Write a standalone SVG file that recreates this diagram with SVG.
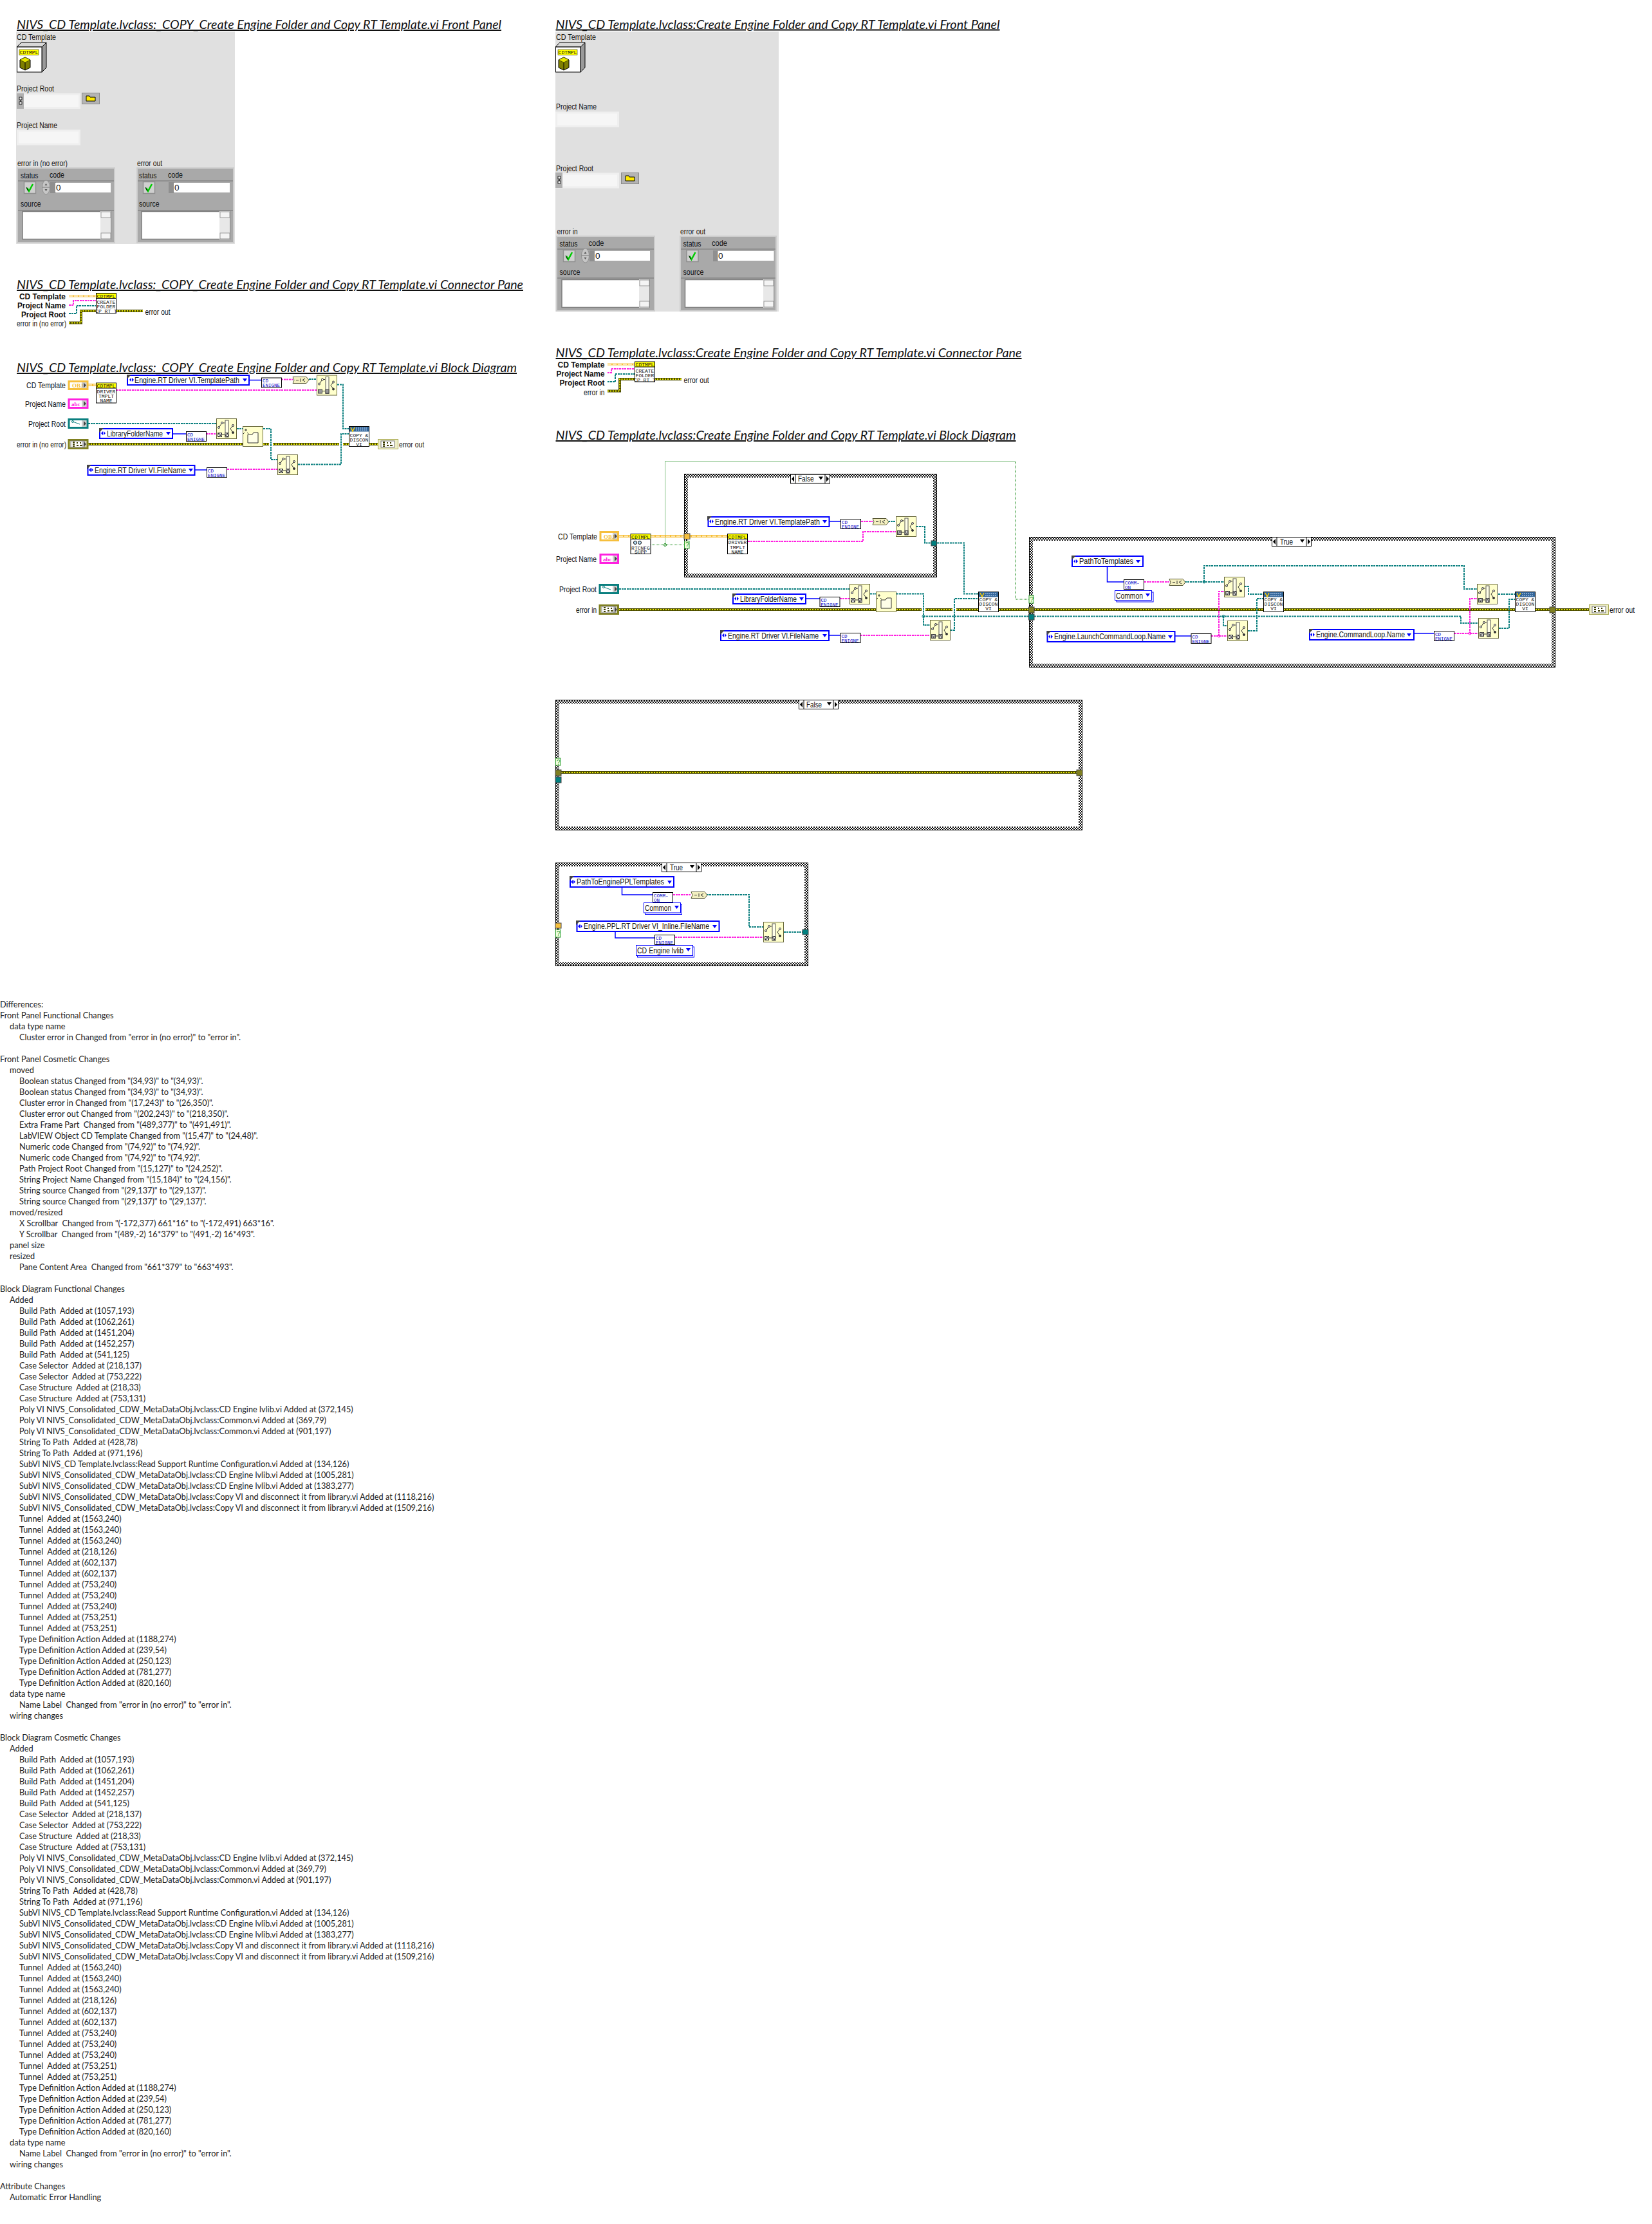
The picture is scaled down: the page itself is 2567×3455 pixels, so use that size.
<svg xmlns="http://www.w3.org/2000/svg" width="2567" height="3455" viewBox="0 0 2567 3455">
<style>
text{font-family:"Liberation Sans",Arial,sans-serif;fill:#111}
.ti{font-family:Lato,"Open Sans",sans-serif;font-style:italic;font-size:20px;text-decoration:underline;fill:#111}
.l{font-size:13.5px}
.lb{font-size:13.5px;font-weight:bold}
.en{font-size:13.5px}
.ic{font-family:"Liberation Mono",monospace;font-size:8px;text-anchor:middle;fill:#111}
.cd{font-family:"Liberation Mono",monospace;font-size:7.5px;fill:#0000c8}
.d{font-family:Lato,"Open Sans",sans-serif;font-size:14px;fill:#222}
.d tspan{white-space:pre}
.wt{fill:none;stroke:#0a7f7f;stroke-width:2;stroke-dasharray:3 1}
.wp{fill:none;stroke:#ff20e0;stroke-width:2;stroke-dasharray:3 1}
.wb{fill:none;stroke:#0000ff;stroke-width:1.5}
.wg{fill:none;stroke:#007f00;stroke-width:1;stroke-dasharray:1 1}
.ea{fill:none;stroke:#4c4c00;stroke-width:4}
.eb{fill:none;stroke:#e8e800;stroke-width:2;stroke-dasharray:2 2}
.oa{fill:none;stroke:#f6bf3c;stroke-width:4}
.ob{fill:none;stroke:#fff4d0;stroke-width:1.5;stroke-dasharray:6 2}
.ev{fill:#fff;stroke:#0000ff;stroke-width:2}
.ctl{fill:#f6f6f6;stroke:#efefef;stroke-width:3}
.clu{fill:#a9a9a9;stroke:#cdcdcd;stroke-width:2}
.sep{fill:#8f8f8f}
.tb{fill:#fff;stroke:#7d7d7d;stroke-width:1.5}
.fr{fill:url(#chk2);stroke:#000;stroke-width:1}
.in{fill:#fff}
.tn{stroke:#444;stroke-width:1}
.to{fill:#fff;stroke:#f6bf3c;stroke-width:3}
.tp{fill:#fff;stroke:#ff20e0;stroke-width:3}
.tt{fill:#fff;stroke:#0a7f7f;stroke-width:3}
.te{fill:#ffffd8;stroke:#808020;stroke-width:3}
.sh{fill:#777;opacity:.35}
</style>
<defs>
<pattern id="chk" width="2" height="2" patternUnits="userSpaceOnUse"><rect width="2" height="2" fill="#fff"/><rect width="1" height="1" fill="#333"/><rect x="1" y="1" width="1" height="1" fill="#333"/></pattern>
<pattern id="chk2" width="4" height="4" patternUnits="userSpaceOnUse"><rect width="4" height="4" fill="#fff"/><rect width="2" height="2" fill="#111"/><rect x="2" y="2" width="2" height="2" fill="#111"/></pattern>
<g id="bp"><rect x=".5" y=".5" width="31" height="31" fill="#ffffcc" stroke="#66663a"/><rect x="14" y="3" width="5" height="26" fill="#ffffe8" stroke="#555"/><rect x="2.5" y="22.500" width="6" height="6" fill="url(#chk)" stroke="#444"/><rect x="14" y="22.500" width="5" height="6" fill="url(#chk)" stroke="#444"/><path d="M9 25H13M4 14L9 7M9 7H13M22 16L26 11M22 16L26 22" fill="none" stroke="#333"/><circle cx="4" cy="14" r="1.500" fill="#fff" stroke="#333"/><circle cx="9" cy="7" r="1.500" fill="#fff" stroke="#333"/><circle cx="26" cy="11" r="1.500" fill="#fff" stroke="#333"/><circle cx="26" cy="22" r="1.500" fill="#333" stroke="#333"/></g>
<g id="fo"><rect x=".5" y=".5" width="31" height="31" fill="#ffffcc" stroke="#66663a"/><path d="M8 13H15L17 10H24V26H8Z" fill="#ffffe8" stroke="#333"/><path d="M3 6H7M5 4V8M7 10L9 12M3 10L1 12" stroke="#333" fill="none"/></g>
<g id="sp"><polygon points="0,.5 21,.5 25,5.500 21,10.500 0,10.500 2,5.500" fill="#f4f0c0" stroke="#555533"/><path d="M5 5.500H9M12 3V8M15 5.500L19 3M15 5.500L19 8" stroke="#333" fill="none"/></g>
<g id="ci"><rect x=".5" y=".5" width="31" height="31" fill="#fff" stroke="#000"/><rect x="1" y="1" width="30" height="7.500" fill="#ffff00"/><path d="M1 8.500H31" stroke="#000"/></g>
<g id="cv"><rect x=".5" y=".5" width="31" height="31" fill="#fff" stroke="#000"/><rect x="1" y="1" width="30" height="7.500" fill="#336699"/><path d="M3 2L6 8L9 2" fill="none" stroke="#ffd000" stroke-width="1.500"/><path d="M11 3H29M11 6H29" stroke="#cfe0ff" stroke-dasharray="2 1"/></g>
<g id="cb"><rect x=".5" y=".5" width="31" height="15" fill="#fff" stroke="#000"/></g>
<g id="sel"><rect x=".5" y=".5" width="61" height="14" fill="#fff" stroke="#000"/><path d="M8 .5V14.500M54 .5V14.500" stroke="#000"/><polygon points="6,3 6,12 2,7.500" fill="#000"/><polygon points="56,3 56,12 60,7.500" fill="#000"/><polygon points="44,4 51,4 47.500,9" fill="#000"/></g>
<g id="cor"><polygon points="0,0 7,0 0,7" fill="#444"/></g>
<g id="lr"><polygon points="3,0 3,6 0,3" fill="#0000ff"/><polygon points="4,0 4,6 7,3" fill="#0000ff"/></g>
<g id="dd"><polygon points="0,0 7,0 3.500,5" fill="#0000ff"/></g>
<g id="obj3"><polygon points="0,7 7,0 46,0 39,7" fill="#d8d8d8" stroke="#000"/><polygon points="39,7 46,0 46,39 39,46" fill="#9a9a9a" stroke="#000"/><rect x=".5" y="7" width="38.500" height="39" fill="#fff" stroke="#000" stroke-width="1"/><rect x="4" y="11" width="30" height="8.500" fill="#ffff00" stroke="#000" stroke-width=".5"/><polygon points="5,27 13,23 21,27 21,39 13,43 5,39" fill="#7f7f00" stroke="#000"/><polygon points="5,27 13,23 21,27 13,31" fill="#e6e600" stroke="#000" stroke-width=".5"/><path d="M13 31V43" stroke="#000"/></g>
<g id="sb"><rect width="16" height="44" fill="#e8e8e8"/><rect x="1" y="1" width="15" height="9" fill="#f4f4f4" stroke="#888" stroke-width=".8"/><rect x="1" y="34" width="15" height="9" fill="#f4f4f4" stroke="#888" stroke-width=".8"/></g>
<g id="bool"><rect x=".5" y=".5" width="18" height="18" fill="#cfcfcf" stroke="#8f8f8f" stroke-width="1.500"/><path d="M5 10L8 15L14 4" fill="none" stroke="#00cc00" stroke-width="2.500"/><path d="M4 9L7 15" stroke="#000" fill="none"/></g>
<g id="spin"><ellipse cx="6.500" cy="11" rx="6" ry="11" fill="#c6c6c6" stroke="#8f8f8f"/><path d="M1 11H12" stroke="#777"/><polygon points="6.500,5 4.500,8 8.500,8" fill="#555"/><polygon points="6.500,17 4.500,14 8.500,14" fill="#555"/></g>
<g id="br"><rect x=".5" y=".5" width="27" height="17" fill="#b4b4b4" stroke="#888"/><path d="M7 5H12L13 7H21V13H7Z" fill="#ffe900" stroke="#000"/></g>
<g id="pth"><rect width="11" height="24" fill="#b0b0b0"/><path d="M6 7V15" stroke="#000"/><rect x="4" y="6" width="4" height="4" fill="#eee" stroke="#000" stroke-width=".8"/><rect x="4" y="13" width="4" height="4" fill="#eee" stroke="#000" stroke-width=".8"/></g>
<g id="tri"><polygon points="0,0 4,4 0,8" fill="#444"/></g>
<g id="eicon"><rect x="5" y="3" width="21" height="10" fill="#fff" stroke="#777" stroke-width="1"/><path d="M8 5H11M8 8H11M8 11H11M14 6H16M19 6H21M19 10H23M14 10H17" stroke="#3d3d00" stroke-width="2"/></g>
</defs>
<rect width="2567" height="3455" fill="#fff"/>

<g id="titles">
<text class="ti" x="26" y="45" textLength="753" lengthAdjust="spacingAndGlyphs">NIVS_CD Template.lvclass:_COPY_Create Engine Folder and Copy RT Template.vi Front Panel</text>
<text class="ti" x="26" y="449" textLength="787" lengthAdjust="spacingAndGlyphs">NIVS_CD Template.lvclass:_COPY_Create Engine Folder and Copy RT Template.vi Connector Pane</text>
<text class="ti" x="26" y="578" textLength="777" lengthAdjust="spacingAndGlyphs">NIVS_CD Template.lvclass:_COPY_Create Engine Folder and Copy RT Template.vi Block Diagram</text>
<text class="ti" x="863.500" y="44.500" textLength="690" lengthAdjust="spacingAndGlyphs">NIVS_CD Template.lvclass:Create Engine Folder and Copy RT Template.vi Front Panel</text>
<text class="ti" x="863.500" y="555" textLength="724" lengthAdjust="spacingAndGlyphs">NIVS_CD Template.lvclass:Create Engine Folder and Copy RT Template.vi Connector Pane</text>
<text class="ti" x="863.500" y="683" textLength="715" lengthAdjust="spacingAndGlyphs">NIVS_CD Template.lvclass:Create Engine Folder and Copy RT Template.vi Block Diagram</text>
</g>

<g id="front-panel-left">
<rect x="25" y="49" width="340" height="330" fill="#e0e0e0"/>
<text class="l" x="26" y="62" textLength="61" lengthAdjust="spacingAndGlyphs">CD Template</text>
<use href="#obj3" x="26" y="66"/>
<text class="ic" x="45" y="83.500">CDTMPL</text>
<text class="l" x="26" y="142" textLength="58" lengthAdjust="spacingAndGlyphs">Project Root</text>
<rect class="ctl" x="27.500" y="146.500" width="96" height="21"/><use href="#pth" x="26" y="145"/>
<use href="#br" x="127" y="144"/>
<text class="l" x="26" y="199" textLength="63" lengthAdjust="spacingAndGlyphs">Project Name</text>
<rect class="ctl" x="27.500" y="203" width="96" height="21"/>
<text class="l" x="27" y="258" textLength="78" lengthAdjust="spacingAndGlyphs">error in (no error)</text>
<text class="l" x="213" y="258" textLength="39" lengthAdjust="spacingAndGlyphs">error out</text>
<rect class="clu" x="27" y="261" width="151" height="116"/>
<rect class="sep" x="28" y="280" width="149" height="2"/><rect class="sep" x="28" y="326" width="149" height="2"/>
<text class="l" x="32" y="277" textLength="27.500" lengthAdjust="spacingAndGlyphs">status</text><text class="l" x="77" y="276" textLength="23" lengthAdjust="spacingAndGlyphs">code</text><text class="l" x="32" y="321" textLength="31.500" lengthAdjust="spacingAndGlyphs">source</text>
<use href="#bool" x="37" y="282"/><use href="#spin" x="65" y="280"/>
<rect x="78" y="283" width="9" height="17" fill="#8f8f8f"/><rect x="86" y="284" width="86" height="15" fill="#fff"/><text class="l" x="87" y="296">0</text>
<rect class="tb" x="35" y="328.500" width="137" height="43"/><use href="#sb" x="156" y="328"/>
<rect class="clu" x="213" y="261" width="150" height="116"/>
<rect class="sep" x="214" y="280" width="148" height="2"/><rect class="sep" x="214" y="326" width="148" height="2"/>
<text class="l" x="216" y="277" textLength="27.500" lengthAdjust="spacingAndGlyphs">status</text><text class="l" x="261" y="276" textLength="23" lengthAdjust="spacingAndGlyphs">code</text><text class="l" x="216" y="321" textLength="31.500" lengthAdjust="spacingAndGlyphs">source</text>
<use href="#bool" x="222" y="282"/>
<rect x="262" y="283" width="9" height="17" fill="#8f8f8f"/><rect x="270" y="284" width="87" height="15" fill="#fff"/><text class="l" x="271" y="296">0</text>
<rect class="tb" x="220" y="328.500" width="137" height="43"/><use href="#sb" x="341" y="328"/>
</g>

<g id="front-panel-right">
<rect x="863" y="49" width="347" height="435" fill="#e0e0e0"/>
<text class="l" x="864" y="62" textLength="62" lengthAdjust="spacingAndGlyphs">CD Template</text>
<use href="#obj3" x="863" y="66"/>
<text class="ic" x="882" y="83.500">CDTMPL</text>
<text class="l" x="864" y="170" textLength="63" lengthAdjust="spacingAndGlyphs">Project Name</text>
<rect class="ctl" x="864.500" y="175" width="96" height="21"/>
<text class="l" x="864" y="266" textLength="58" lengthAdjust="spacingAndGlyphs">Project Root</text>
<rect class="ctl" x="864.500" y="270" width="96" height="21"/><use href="#pth" x="863" y="268"/>
<use href="#br" x="965" y="268"/>
<text class="l" x="865.500" y="364" textLength="32" lengthAdjust="spacingAndGlyphs">error in</text>
<text class="l" x="1057" y="364" textLength="39" lengthAdjust="spacingAndGlyphs">error out</text>
<rect class="clu" x="865" y="367" width="152" height="116"/>
<rect class="sep" x="866" y="386" width="150" height="2"/><rect class="sep" x="866" y="431" width="150" height="2"/>
<text class="l" x="869.500" y="383" textLength="28" lengthAdjust="spacingAndGlyphs">status</text><text class="l" x="914.500" y="382" textLength="24" lengthAdjust="spacingAndGlyphs">code</text><text class="l" x="869.500" y="427" textLength="32" lengthAdjust="spacingAndGlyphs">source</text>
<use href="#bool" x="875" y="388"/><use href="#spin" x="903" y="386"/>
<rect x="916" y="389" width="9" height="17" fill="#8f8f8f"/><rect x="924" y="390" width="86" height="15" fill="#fff"/><text class="l" x="925" y="402">0</text>
<rect class="tb" x="873" y="434.500" width="136" height="43"/><use href="#sb" x="993" y="434"/>
<rect class="clu" x="1057" y="367" width="149" height="116"/>
<rect class="sep" x="1058" y="386" width="147" height="2"/><rect class="sep" x="1058" y="431" width="147" height="2"/>
<text class="l" x="1061.500" y="383" textLength="28" lengthAdjust="spacingAndGlyphs">status</text><text class="l" x="1106" y="382" textLength="24" lengthAdjust="spacingAndGlyphs">code</text><text class="l" x="1061.500" y="427" textLength="32" lengthAdjust="spacingAndGlyphs">source</text>
<use href="#bool" x="1066.500" y="388"/>
<rect x="1108" y="389" width="8" height="17" fill="#8f8f8f"/><rect x="1115.500" y="390" width="87" height="15" fill="#fff"/><text class="l" x="1116" y="402">0</text>
<rect class="tb" x="1064.500" y="434.500" width="137" height="43"/><use href="#sb" x="1186" y="434"/>
</g>

<g id="frames">
<g id="case-false-1"><rect class="fr" x="1063.500" y="736.500" width="392" height="160"/><rect class="in" x="1069" y="742" width="381" height="149"/></g>
<g id="case-true-main"><rect class="fr" x="1599.500" y="834.500" width="817" height="202"/><rect class="in" x="1605" y="840" width="806" height="191"/></g>
<g id="case-false-2"><rect class="fr" x="863.500" y="1087.500" width="818" height="202"/><rect class="in" x="869" y="1093" width="807" height="191"/></g>
<g id="case-true-2"><rect class="fr" x="863.500" y="1340.500" width="392" height="160"/><rect class="in" x="869" y="1346" width="381" height="149"/></g>
</g>

<g id="connectors">
<!-- left connector pane -->
<path class="oa" style="stroke-width:3" d="M107 460H149"/><path class="ob" d="M107 460H149"/>
<path class="wp" d="M107 474H114V467H149"/>
<path class="wt" d="M107 487H119V475H149"/>
<path class="ea" d="M107 501.500H126V483H149M181 483H222"/><path class="eb" d="M107 501.500H126V483H149M181 483H222"/>
<!-- right connector pane -->
<path class="oa" style="stroke-width:3" d="M944 566H987"/><path class="ob" d="M944 566H987"/>
<path class="wp" d="M944 579H950V573H987"/>
<path class="wt" d="M944 593H956V581H987"/>
<path class="ea" d="M944 607.500H963V589H987M1017 589H1059"/><path class="eb" d="M944 607.500H963V589H987M1017 589H1059"/>
<!-- left block diagram -->
<path class="oa" d="M137 598H149"/><path class="ob" d="M137 598H149"/>
<path class="wp" d="M181 606H492"/>
<path class="wb" d="M387 590.500H407"/>
<path class="wp" d="M437 589.500H455"/>
<path class="wt" d="M480 589H492"/>
<path class="wt" d="M524 597.500H533V666H542"/>
<path class="wt" d="M137 658H336"/>
<path class="wb" d="M268 674H289"/>
<path class="wp" d="M320 674H336"/>
<path class="wt" d="M368 666H377"/>
<path class="wt" d="M409 666H421V714H431"/>
<path class="ea" d="M137 690H377M409 690H418M424 690H527M533 690H542M574 690H587"/><path class="eb" d="M137 690H377M409 690H418M424 690H527M533 690H542M574 690H587"/>
<path class="wt" d="M463 721.500H530V674H542"/>
<path class="wb" d="M303 730H321"/>
<path class="wp" d="M353 729H431"/>
<!-- right block diagram -->
<path class="wg" d="M1011 846.500H1063M1033.500 846.500V716.500H1578V931H1598"/>
<path class="oa" d="M962 833H980M1011 833H1130"/><path class="ob" d="M962 833H980M1011 833H1130"/>
<path class="wb" d="M1289 810H1306"/>
<path class="wp" d="M1338 810H1356"/>
<path class="wt" d="M1380 810H1392"/>
<path class="wp" d="M1162 841H1341V826H1392"/>
<path class="wt" d="M1424 818H1437V843.500H1447"/>
<path class="wt" d="M1456 843.500H1498V922.500H1520"/>
<path class="wt" d="M962 915H1320"/>
<path class="wb" d="M1252 930H1274"/>
<path class="wp" d="M1305 930H1320"/>
<path class="wt" d="M1352 922.500H1361"/>
<path class="ea" d="M962 947H1361M1393 947H1432M1438 947H1480M1486 947H1520M1552 947H1963M1995 947H2354M2386 947H2469"/><path class="eb" d="M962 947H1361M1393 947H1432M1438 947H1480M1486 947H1520M1552 947H1963M1995 947H2354M2386 947H2469"/>
<path class="wt" d="M1393 922.500H1435V971H1445M1435 957.500H2270V968H2297M1901 957.500V972H1907"/>
<path class="wt" d="M1477 979H1483V930H1520"/>
<path class="wb" d="M1288 987H1306"/>
<path class="wp" d="M1337 987H1445"/>
<path class="wb" d="M1720.500 880V904H1746"/>
<path class="wp" d="M1778 904H1817"/>
<path class="wt" d="M1841 904H1902M1871 904V879H2275V915H2295"/>
<path class="wt" d="M1934 911H1940V923H1963"/>
<path class="wt" d="M1939 980H1953V930H1963"/>
<path class="wb" d="M1826 988H1851"/>
<path class="wp" d="M1882 988H1907M1894 988V919H1902"/>
<path class="wb" d="M2197 984H2228"/>
<path class="wp" d="M2260 984H2297M2284 984V930H2295"/>
<path class="wt" d="M2328 923H2354"/>
<path class="wt" d="M2329 976H2345V931H2354"/>
<!-- lower cases -->
<path class="ea" d="M872 1200H1673"/><path class="eb" d="M872 1200H1673"/>
<path class="wb" d="M966.500 1378V1390H1014"/>
<path class="wp" d="M1046 1390H1074"/>
<path class="wt" d="M1098 1390H1164V1440H1186"/>
<path class="wt" d="M1218 1448H1247"/>
<path class="wb" d="M956 1447V1457H1017"/>
<path class="wp" d="M1049 1456H1186"/>
</g>

<g id="left-pane-labels">
<text class="lb" x="30" y="465" textLength="72" lengthAdjust="spacingAndGlyphs">CD Template</text>
<text class="lb" x="27" y="479" textLength="75" lengthAdjust="spacingAndGlyphs">Project Name</text>
<text class="lb" x="33" y="493" textLength="69" lengthAdjust="spacingAndGlyphs">Project Root</text>
<text class="l" x="26" y="507" textLength="77" lengthAdjust="spacingAndGlyphs">error in (no error)</text>
<text class="l" x="225.500" y="489" textLength="39" lengthAdjust="spacingAndGlyphs">error out</text>
<g id="pane-icon-left"><use href="#ci" x="149" y="455"/><text class="ic" x="165" y="462.500">CDTMPL</text><text class="ic" x="165" y="472">CREATE</text><text class="ic" x="165" y="479">FOLDER</text><text class="ic" x="165" y="486">CP RT T</text></g>
</g>

<g id="right-pane-labels">
<text class="lb" x="866.500" y="571" textLength="73" lengthAdjust="spacingAndGlyphs">CD Template</text>
<text class="lb" x="864.500" y="585" textLength="75" lengthAdjust="spacingAndGlyphs">Project Name</text>
<text class="lb" x="869.500" y="599" textLength="70" lengthAdjust="spacingAndGlyphs">Project Root</text>
<text class="l" x="907" y="613.500" textLength="32.500" lengthAdjust="spacingAndGlyphs">error in</text>
<text class="l" x="1062.500" y="595" textLength="39" lengthAdjust="spacingAndGlyphs">error out</text>
<g id="pane-icon-right"><use href="#ci" x="986" y="561.500"/><text class="ic" x="1002" y="569">CDTMPL</text><text class="ic" x="1002" y="578.500">CREATE</text><text class="ic" x="1002" y="585.500">FOLDER</text><text class="ic" x="1002" y="592.500">CP RT T</text></g>
</g>

<g id="block-left">
<g id="L-cdt"><text class="l" x="41" y="603" textLength="61" lengthAdjust="spacingAndGlyphs">CD Template</text><rect class="to" x="107" y="592.500" width="29" height="12"/><text x="112" y="602" style="font-size:9px;font-weight:bold;font-family:'Liberation Serif',serif;fill:#f6bf3c">OBJ</text><rect class="sh" x="127" y="594" width="7.500" height="9"/><use href="#tri" x="130" y="594.500"/></g>
<g id="L-pn"><text class="l" x="39" y="632" textLength="63" lengthAdjust="spacingAndGlyphs">Project Name</text><rect class="tp" x="107" y="620.500" width="29" height="13"/><text x="111" y="631" style="font-size:9px;font-weight:bold;font-family:'Liberation Serif',serif;fill:#ff20e0">abc</text><rect class="sh" x="127" y="622" width="7.500" height="10"/><use href="#tri" x="130" y="623"/></g>
<g id="L-pr"><text class="l" x="44" y="663" textLength="58" lengthAdjust="spacingAndGlyphs">Project Root</text><rect class="tt" x="107" y="651.500" width="29" height="13"/><path d="M113 655L124 659" stroke="#0a7f7f"/><circle cx="113" cy="655" r="1.500" fill="#fff" stroke="#0a7f7f"/><rect class="sh" x="127" y="653" width="7.500" height="10"/><use href="#tri" x="130" y="654"/></g>
<g id="L-ei"><text class="l" x="26" y="695" textLength="77" lengthAdjust="spacingAndGlyphs">error in (no error)</text><rect class="te" x="107" y="683.500" width="29" height="13"/><use href="#eicon" x="105" y="682"/><rect class="sh" x="127" y="685" width="7.500" height="10"/><use href="#tri" x="130" y="686"/></g>
<g id="L-drv"><use href="#ci" x="149" y="594.500"/><text class="ic" x="165" y="602">CDTMPL</text><text class="ic" x="165" y="611">DRIVER</text><text class="ic" x="165" y="618">TMPLT</text><text class="ic" x="165" y="625">NAME</text></g>
<g id="L-en1"><rect class="ev" x="198" y="583" width="189" height="15"/><use href="#cor" x="197" y="582"/><use href="#lr" x="201" y="587"/><use href="#dd" x="377" y="588"/><text class="en" x="209" y="595" textLength="163" lengthAdjust="spacingAndGlyphs">Engine.RT Driver VI.TemplatePath</text></g>
<g id="L-cd1"><use href="#cb" x="406" y="586.500"/><text class="cd" x="408" y="594">CD</text><text class="cd" x="408" y="601">ENIGNE</text></g>
<use id="L-s2p" href="#sp" x="455" y="585"/>
<use id="L-bp1" href="#bp" x="492" y="582.500"/>
<g id="L-en2"><rect class="ev" x="155" y="666" width="113" height="15"/><use href="#cor" x="154" y="665"/><use href="#lr" x="157" y="670"/><use href="#dd" x="258" y="671"/><text class="en" x="166" y="678" textLength="87" lengthAdjust="spacingAndGlyphs">LibraryFolderName</text></g>
<g id="L-cd2"><use href="#cb" x="289" y="670"/><text class="cd" x="291" y="677.500">CD</text><text class="cd" x="291" y="684.500">ENIGNE</text></g>
<use id="L-bp2" href="#bp" x="336" y="650"/>
<use id="L-fo" href="#fo" x="377" y="662"/>
<use id="L-bp3" href="#bp" x="431" y="706"/>
<g id="L-cp"><use href="#cv" x="542" y="662"/><text class="ic" x="558" y="679">COPY &amp;</text><text class="ic" x="558" y="686">DISCON</text><text class="ic" x="558" y="693">VI</text></g>
<g id="L-en3"><rect class="ev" x="136.500" y="723" width="166" height="15"/><use href="#cor" x="135" y="722"/><use href="#lr" x="138" y="727"/><use href="#dd" x="293" y="728"/><text class="en" x="147" y="735" textLength="142" lengthAdjust="spacingAndGlyphs">Engine.RT Driver VI.FileName</text></g>
<g id="L-cd3"><use href="#cb" x="321" y="726"/><text class="cd" x="323" y="733.500">CD</text><text class="cd" x="323" y="740.500">ENIGNE</text></g>
<g id="L-eo"><rect x="587.500" y="682.500" width="31" height="15" fill="#eeeec8" stroke="#a8a850"/><use href="#eicon" x="587" y="682"/><text class="l" x="620" y="695" textLength="39" lengthAdjust="spacingAndGlyphs">error out</text></g>
</g>

<g id="block-right">
<g id="R-cdt"><text class="l" x="867" y="838" textLength="61" lengthAdjust="spacingAndGlyphs">CD Template</text><rect class="to" x="933" y="826.500" width="27.500" height="13"/><text x="938" y="837" style="font-size:9px;font-weight:bold;font-family:'Liberation Serif',serif;fill:#f6bf3c">OBJ</text><rect class="sh" x="952" y="828" width="7" height="10"/><use href="#tri" x="955" y="829"/></g>
<g id="R-pn"><text class="l" x="864" y="873" textLength="63" lengthAdjust="spacingAndGlyphs">Project Name</text><rect class="tp" x="933" y="861.500" width="27.500" height="13"/><text x="937" y="872" style="font-size:9px;font-weight:bold;font-family:'Liberation Serif',serif;fill:#ff20e0">abc</text><rect class="sh" x="952" y="863" width="7" height="10"/><use href="#tri" x="955" y="864"/></g>
<g id="R-pr"><text class="l" x="869" y="920" textLength="58" lengthAdjust="spacingAndGlyphs">Project Root</text><rect class="tt" x="932" y="908.500" width="28.500" height="13"/><path d="M938 912L949 916" stroke="#0a7f7f"/><circle cx="938" cy="912" r="1.500" fill="#fff" stroke="#0a7f7f"/><rect class="sh" x="952" y="910" width="7" height="10"/><use href="#tri" x="955" y="911"/></g>
<g id="R-ei"><text class="l" x="895" y="952" textLength="32" lengthAdjust="spacingAndGlyphs">error in</text><rect class="te" x="932" y="940.500" width="28.500" height="13"/><use href="#eicon" x="930" y="939"/><rect class="sh" x="952" y="942" width="7" height="10"/><use href="#tri" x="955" y="943"/></g>
<g id="R-rt"><use href="#ci" x="979.500" y="829"/><text class="ic" x="995.500" y="836.500">CDTMPL</text><circle cx="987" cy="843" r="2.500" fill="#bfe6ff" stroke="#000"/><circle cx="994" cy="843" r="2.500" fill="#bfe6ff" stroke="#000"/><text class="ic" x="995.500" y="853.500">RTCNFG</text><text class="ic" x="995.500" y="859.500">SUPP</text></g>
<g id="R-tun1"><rect class="tn" x="1063" y="829" width="9" height="8.500" fill="#f6bf3c"/><rect x="1063.500" y="840.500" width="7.500" height="11.500" fill="#efffe0" stroke="#2a9a2a"/><text x="1065" y="850" style="font-size:10px;fill:#2a9a2a">?</text></g>
<g id="R-sel1"><use href="#sel" x="1228" y="736.500"/><text class="l" x="1240" y="748" textLength="24.500" lengthAdjust="spacingAndGlyphs">False</text></g>
<g id="R-en1"><rect class="ev" x="1100.500" y="803" width="188" height="15"/><use href="#cor" x="1099" y="802"/><use href="#lr" x="1102" y="807"/><use href="#dd" x="1278" y="808"/><text class="en" x="1111" y="815" textLength="163" lengthAdjust="spacingAndGlyphs">Engine.RT Driver VI.TemplatePath</text></g>
<g id="R-cd1"><use href="#cb" x="1306" y="806"/><text class="cd" x="1308" y="813.500">CD</text><text class="cd" x="1308" y="820.500">ENIGNE</text></g>
<use id="R-s2p" href="#sp" x="1356" y="805"/>
<use id="R-bp1" href="#bp" x="1392" y="802"/>
<rect id="R-tun2" class="tn" x="1447" y="840" width="8.500" height="8" fill="#007f7f"/>
<g id="R-drv"><use href="#ci" x="1130" y="829"/><text class="ic" x="1146" y="836.500">CDTMPL</text><text class="ic" x="1146" y="845">DRIVER</text><text class="ic" x="1146" y="852.500">TMPLT</text><text class="ic" x="1146" y="859.500">NAME</text></g>
<g id="R-en2"><rect class="ev" x="1139" y="923" width="113" height="15"/><use href="#cor" x="1138" y="922"/><use href="#lr" x="1141" y="927"/><use href="#dd" x="1242" y="928"/><text class="en" x="1150" y="935" textLength="88" lengthAdjust="spacingAndGlyphs">LibraryFolderName</text></g>
<g id="R-cd2"><use href="#cb" x="1273.500" y="927"/><text class="cd" x="1275.500" y="934.500">CD</text><text class="cd" x="1275.500" y="941.500">ENIGNE</text></g>
<use id="R-bp2" href="#bp" x="1320" y="907"/>
<use id="R-fo" href="#fo" x="1361" y="919"/>
<use id="R-bp3" href="#bp" x="1445" y="963"/>
<circle cx="1435" cy="957.500" r="2" fill="none" stroke="#0a7f7f"/>
<circle cx="1033.500" cy="846.500" r="2" fill="none" stroke="#007f00"/>
<g id="R-cp1"><use href="#cv" x="1520" y="919"/><text class="ic" x="1536" y="934">COPY &amp;</text><text class="ic" x="1536" y="941">DISCON</text><text class="ic" x="1536" y="948">VI</text></g>
<g id="R-en3"><rect class="ev" x="1120" y="980" width="168" height="15"/><use href="#cor" x="1119" y="979"/><use href="#lr" x="1122" y="984"/><use href="#dd" x="1278" y="985"/><text class="en" x="1131" y="992" textLength="141" lengthAdjust="spacingAndGlyphs">Engine.RT Driver VI.FileName</text></g>
<g id="R-cd3"><use href="#cb" x="1305.500" y="983"/><text class="cd" x="1307.500" y="990.500">CD</text><text class="cd" x="1307.500" y="997.500">ENIGNE</text></g>
<g id="M-tun"><rect x="1599" y="925" width="7.500" height="12" fill="#efffe0" stroke="#2a9a2a"/><text x="1600.500" y="935" style="font-size:10px;fill:#2a9a2a">?</text><rect class="tn" x="1598.500" y="943" width="8.500" height="9" fill="#7f7f20"/><rect class="tn" x="1598.500" y="954" width="8.500" height="9" fill="#007f7f"/><rect class="tn" x="2408" y="943" width="9" height="9" fill="#7f7f20"/></g>
<g id="M-sel"><use href="#sel" x="1976" y="834"/><text class="l" x="1989" y="846" textLength="20" lengthAdjust="spacingAndGlyphs">True</text></g>
<g id="M-en1"><rect class="ev" x="1666" y="864" width="110" height="16"/><use href="#cor" x="1665" y="863"/><use href="#lr" x="1668" y="869"/><use href="#dd" x="1765" y="870"/><text class="en" x="1677" y="876" textLength="84" lengthAdjust="spacingAndGlyphs">PathToTemplates</text></g>
<g id="M-com"><use href="#cb" x="1746" y="900"/><text class="cd" x="1748" y="907.500">COMM-</text><text class="cd" x="1748" y="914.500">ON</text></g>
<g id="M-en2"><rect x="1735" y="920" width="57" height="15" fill="#fff" stroke="#0000ff"/><rect x="1732.500" y="917.500" width="57" height="15" fill="#fff" stroke="#0000ff"/><use href="#dd" x="1780" y="922"/><text class="en" x="1734" y="929.500" textLength="42" lengthAdjust="spacingAndGlyphs">Common</text></g>
<use id="M-s2p" href="#sp" x="1817" y="899"/>
<circle cx="1871" cy="904" r="2" fill="none" stroke="#0a7f7f"/><circle cx="1901" cy="957.500" r="2" fill="none" stroke="#0a7f7f"/><circle cx="1894" cy="988" r="2" fill="none" stroke="#ff20e0"/><circle cx="2284" cy="984" r="2" fill="none" stroke="#ff20e0"/>
<use id="M-bpa" href="#bp" x="1902" y="896"/>
<g id="M-cpa"><use href="#cv" x="1963" y="919"/><text class="ic" x="1979" y="934">COPY &amp;</text><text class="ic" x="1979" y="941">DISCON</text><text class="ic" x="1979" y="948">VI</text></g>
<use id="M-bpb" href="#bp" x="1907" y="964"/>
<g id="M-en3"><rect class="ev" x="1627.500" y="981" width="198" height="16"/><use href="#cor" x="1626.500" y="980"/><use href="#lr" x="1629" y="986"/><use href="#dd" x="1815" y="987"/><text class="en" x="1638" y="993" textLength="173" lengthAdjust="spacingAndGlyphs">Engine.LaunchCommandLoop.Name</text></g>
<g id="M-cd1"><use href="#cb" x="1850.500" y="984"/><text class="cd" x="1852.500" y="991.500">CD</text><text class="cd" x="1852.500" y="998.500">ENIGNE</text></g>
<g id="M-en4"><rect class="ev" x="2035" y="978" width="162" height="16"/><use href="#cor" x="2034" y="977"/><use href="#lr" x="2036" y="983"/><use href="#dd" x="2186" y="984"/><text class="en" x="2045" y="990" textLength="138" lengthAdjust="spacingAndGlyphs">Engine.CommandLoop.Name</text></g>
<g id="M-cd2"><use href="#cb" x="2228" y="980"/><text class="cd" x="2230" y="987.500">CD</text><text class="cd" x="2230" y="994.500">ENIGNE</text></g>
<use id="M-bpc" href="#bp" x="2295" y="907"/>
<use id="M-bpd" href="#bp" x="2297" y="960"/>
<g id="M-cpb"><use href="#cv" x="2354" y="919"/><text class="ic" x="2370" y="934">COPY &amp;</text><text class="ic" x="2370" y="941">DISCON</text><text class="ic" x="2370" y="948">VI</text></g>
<g id="R-eo"><rect x="2469.500" y="939.500" width="30" height="15" fill="#eeeec8" stroke="#a8a850"/><use href="#eicon" x="2469" y="939"/><text class="l" x="2501" y="952" textLength="39" lengthAdjust="spacingAndGlyphs">error out</text></g>
</g>

<g id="lower-cases">
<g id="F2-sel"><use href="#sel" x="1241" y="1087"/><text class="l" x="1253" y="1099" textLength="24" lengthAdjust="spacingAndGlyphs">False</text></g>
<g id="F2-tun"><rect x="863.500" y="1178" width="7.500" height="11" fill="#efffe0" stroke="#2a9a2a"/><text x="865" y="1187.500" style="font-size:10px;fill:#2a9a2a">?</text><rect class="tn" x="863" y="1196" width="9" height="9" fill="#7f7f20"/><rect class="tn" x="863" y="1207" width="9" height="9" fill="#007f7f"/><rect class="tn" x="1673" y="1196" width="9" height="9" fill="#7f7f20"/></g>
<g id="T2-sel"><use href="#sel" x="1028" y="1340"/><text class="l" x="1041" y="1352" textLength="20" lengthAdjust="spacingAndGlyphs">True</text></g>
<g id="T2-en1"><rect class="ev" x="886" y="1362" width="161" height="16"/><use href="#cor" x="885" y="1361"/><use href="#lr" x="887" y="1367"/><use href="#dd" x="1037" y="1368"/><text class="en" x="896" y="1374" textLength="136" lengthAdjust="spacingAndGlyphs">PathToEnginePPLTemplates</text></g>
<g id="T2-com"><use href="#cb" x="1014" y="1386"/><text class="cd" x="1016" y="1393.500">COMM-</text><text class="cd" x="1016" y="1400.500">ON</text></g>
<g id="T2-en2"><rect x="1002.500" y="1405" width="57" height="15.500" fill="#fff" stroke="#0000ff"/><rect x="1000.500" y="1402.500" width="57" height="15.500" fill="#fff" stroke="#0000ff"/><use href="#dd" x="1048" y="1407"/><text class="en" x="1002" y="1415" textLength="41" lengthAdjust="spacingAndGlyphs">Common</text></g>
<use id="T2-s2p" href="#sp" x="1074" y="1385"/>
<use id="T2-bp" href="#bp" x="1186" y="1432"/>
<g id="T2-tun"><rect class="tn" x="1247" y="1444" width="9" height="8" fill="#007f7f"/><rect class="tn" x="863" y="1434" width="9" height="8" fill="#f6bf3c"/><rect x="863.500" y="1444.500" width="7.500" height="11.500" fill="#efffe0" stroke="#2a9a2a"/><text x="865" y="1454" style="font-size:10px;fill:#2a9a2a">?</text></g>
<g id="T2-en3"><rect class="ev" x="896.500" y="1431" width="221" height="16"/><use href="#cor" x="895" y="1430"/><use href="#lr" x="898" y="1436"/><use href="#dd" x="1107" y="1437"/><text class="en" x="907" y="1443" textLength="195" lengthAdjust="spacingAndGlyphs">Engine.PPL.RT Driver VI_Inline.FileName</text></g>
<g id="T2-cd"><use href="#cb" x="1017" y="1452"/><text class="cd" x="1019" y="1459.500">CD</text><text class="cd" x="1019" y="1466.500">ENIGNE</text></g>
<g id="T2-en4"><rect x="990.500" y="1471" width="88" height="16" fill="#fff" stroke="#0000ff"/><rect x="988.500" y="1468.500" width="88" height="16" fill="#fff" stroke="#0000ff"/><use href="#dd" x="1066" y="1473"/><text class="en" x="990" y="1481" textLength="72" lengthAdjust="spacingAndGlyphs">CD Engine lvlib</text></g>
</g>

<g id="differences" transform="scale(.91,1)">
<text class="d"><tspan x="0" y="1565">Differences:</tspan>
<tspan x="0" dy="17">Front Panel Functional Changes</tspan>
<tspan x="16.500" dy="17">data type name</tspan>
<tspan x="33" dy="17">Cluster error in Changed from "error in (no error)" to "error in".</tspan>
<tspan x="0" dy="34">Front Panel Cosmetic Changes</tspan>
<tspan x="16.500" dy="17">moved</tspan>
<tspan x="33" dy="17">Boolean status Changed from "(34,93)" to "(34,93)".</tspan>
<tspan x="33" dy="17">Boolean status Changed from "(34,93)" to "(34,93)".</tspan>
<tspan x="33" dy="17">Cluster error in Changed from "(17,243)" to "(26,350)".</tspan>
<tspan x="33" dy="17">Cluster error out Changed from "(202,243)" to "(218,350)".</tspan>
<tspan x="33" dy="17">Extra Frame Part  Changed from "(489,377)" to "(491,491)".</tspan>
<tspan x="33" dy="17">LabVIEW Object CD Template Changed from "(15,47)" to "(24,48)".</tspan>
<tspan x="33" dy="17">Numeric code Changed from "(74,92)" to "(74,92)".</tspan>
<tspan x="33" dy="17">Numeric code Changed from "(74,92)" to "(74,92)".</tspan>
<tspan x="33" dy="17">Path Project Root Changed from "(15,127)" to "(24,252)".</tspan>
<tspan x="33" dy="17">String Project Name Changed from "(15,184)" to "(24,156)".</tspan>
<tspan x="33" dy="17">String source Changed from "(29,137)" to "(29,137)".</tspan>
<tspan x="33" dy="17">String source Changed from "(29,137)" to "(29,137)".</tspan>
<tspan x="16.500" dy="17">moved/resized</tspan>
<tspan x="33" dy="17">X Scrollbar  Changed from "(-172,377) 661*16" to "(-172,491) 663*16".</tspan>
<tspan x="33" dy="17">Y Scrollbar  Changed from "(489,-2) 16*379" to "(491,-2) 16*493".</tspan>
<tspan x="16.500" dy="17">panel size</tspan>
<tspan x="16.500" dy="17">resized</tspan>
<tspan x="33" dy="17">Pane Content Area  Changed from "661*379" to "663*493".</tspan>
<tspan x="0" dy="34">Block Diagram Functional Changes</tspan>
<tspan x="16.500" dy="17">Added</tspan>
<tspan x="33" dy="17">Build Path  Added at (1057,193)</tspan>
<tspan x="33" dy="17">Build Path  Added at (1062,261)</tspan>
<tspan x="33" dy="17">Build Path  Added at (1451,204)</tspan>
<tspan x="33" dy="17">Build Path  Added at (1452,257)</tspan>
<tspan x="33" dy="17">Build Path  Added at (541,125)</tspan>
<tspan x="33" dy="17">Case Selector  Added at (218,137)</tspan>
<tspan x="33" dy="17">Case Selector  Added at (753,222)</tspan>
<tspan x="33" dy="17">Case Structure  Added at (218,33)</tspan>
<tspan x="33" dy="17">Case Structure  Added at (753,131)</tspan>
<tspan x="33" dy="17">Poly VI NIVS_Consolidated_CDW_MetaDataObj.lvclass:CD Engine lvlib.vi Added at (372,145)</tspan>
<tspan x="33" dy="17">Poly VI NIVS_Consolidated_CDW_MetaDataObj.lvclass:Common.vi Added at (369,79)</tspan>
<tspan x="33" dy="17">Poly VI NIVS_Consolidated_CDW_MetaDataObj.lvclass:Common.vi Added at (901,197)</tspan>
<tspan x="33" dy="17">String To Path  Added at (428,78)</tspan>
<tspan x="33" dy="17">String To Path  Added at (971,196)</tspan>
<tspan x="33" dy="17">SubVI NIVS_CD Template.lvclass:Read Support Runtime Configuration.vi Added at (134,126)</tspan>
<tspan x="33" dy="17">SubVI NIVS_Consolidated_CDW_MetaDataObj.lvclass:CD Engine lvlib.vi Added at (1005,281)</tspan>
<tspan x="33" dy="17">SubVI NIVS_Consolidated_CDW_MetaDataObj.lvclass:CD Engine lvlib.vi Added at (1383,277)</tspan>
<tspan x="33" dy="17">SubVI NIVS_Consolidated_CDW_MetaDataObj.lvclass:Copy VI and disconnect it from library.vi Added at (1118,216)</tspan>
<tspan x="33" dy="17">SubVI NIVS_Consolidated_CDW_MetaDataObj.lvclass:Copy VI and disconnect it from library.vi Added at (1509,216)</tspan>
<tspan x="33" dy="17">Tunnel  Added at (1563,240)</tspan>
<tspan x="33" dy="17">Tunnel  Added at (1563,240)</tspan>
<tspan x="33" dy="17">Tunnel  Added at (1563,240)</tspan>
<tspan x="33" dy="17">Tunnel  Added at (218,126)</tspan>
<tspan x="33" dy="17">Tunnel  Added at (602,137)</tspan>
<tspan x="33" dy="17">Tunnel  Added at (602,137)</tspan>
<tspan x="33" dy="17">Tunnel  Added at (753,240)</tspan>
<tspan x="33" dy="17">Tunnel  Added at (753,240)</tspan>
<tspan x="33" dy="17">Tunnel  Added at (753,240)</tspan>
<tspan x="33" dy="17">Tunnel  Added at (753,251)</tspan>
<tspan x="33" dy="17">Tunnel  Added at (753,251)</tspan>
<tspan x="33" dy="17">Type Definition Action Added at (1188,274)</tspan>
<tspan x="33" dy="17">Type Definition Action Added at (239,54)</tspan>
<tspan x="33" dy="17">Type Definition Action Added at (250,123)</tspan>
<tspan x="33" dy="17">Type Definition Action Added at (781,277)</tspan>
<tspan x="33" dy="17">Type Definition Action Added at (820,160)</tspan>
<tspan x="16.500" dy="17">data type name</tspan>
<tspan x="33" dy="17">Name Label  Changed from "error in (no error)" to "error in".</tspan>
<tspan x="16.500" dy="17">wiring changes</tspan>
<tspan x="0" dy="34">Block Diagram Cosmetic Changes</tspan>
<tspan x="16.500" dy="17">Added</tspan>
<tspan x="33" dy="17">Build Path  Added at (1057,193)</tspan>
<tspan x="33" dy="17">Build Path  Added at (1062,261)</tspan>
<tspan x="33" dy="17">Build Path  Added at (1451,204)</tspan>
<tspan x="33" dy="17">Build Path  Added at (1452,257)</tspan>
<tspan x="33" dy="17">Build Path  Added at (541,125)</tspan>
<tspan x="33" dy="17">Case Selector  Added at (218,137)</tspan>
<tspan x="33" dy="17">Case Selector  Added at (753,222)</tspan>
<tspan x="33" dy="17">Case Structure  Added at (218,33)</tspan>
<tspan x="33" dy="17">Case Structure  Added at (753,131)</tspan>
<tspan x="33" dy="17">Poly VI NIVS_Consolidated_CDW_MetaDataObj.lvclass:CD Engine lvlib.vi Added at (372,145)</tspan>
<tspan x="33" dy="17">Poly VI NIVS_Consolidated_CDW_MetaDataObj.lvclass:Common.vi Added at (369,79)</tspan>
<tspan x="33" dy="17">Poly VI NIVS_Consolidated_CDW_MetaDataObj.lvclass:Common.vi Added at (901,197)</tspan>
<tspan x="33" dy="17">String To Path  Added at (428,78)</tspan>
<tspan x="33" dy="17">String To Path  Added at (971,196)</tspan>
<tspan x="33" dy="17">SubVI NIVS_CD Template.lvclass:Read Support Runtime Configuration.vi Added at (134,126)</tspan>
<tspan x="33" dy="17">SubVI NIVS_Consolidated_CDW_MetaDataObj.lvclass:CD Engine lvlib.vi Added at (1005,281)</tspan>
<tspan x="33" dy="17">SubVI NIVS_Consolidated_CDW_MetaDataObj.lvclass:CD Engine lvlib.vi Added at (1383,277)</tspan>
<tspan x="33" dy="17">SubVI NIVS_Consolidated_CDW_MetaDataObj.lvclass:Copy VI and disconnect it from library.vi Added at (1118,216)</tspan>
<tspan x="33" dy="17">SubVI NIVS_Consolidated_CDW_MetaDataObj.lvclass:Copy VI and disconnect it from library.vi Added at (1509,216)</tspan>
<tspan x="33" dy="17">Tunnel  Added at (1563,240)</tspan>
<tspan x="33" dy="17">Tunnel  Added at (1563,240)</tspan>
<tspan x="33" dy="17">Tunnel  Added at (1563,240)</tspan>
<tspan x="33" dy="17">Tunnel  Added at (218,126)</tspan>
<tspan x="33" dy="17">Tunnel  Added at (602,137)</tspan>
<tspan x="33" dy="17">Tunnel  Added at (602,137)</tspan>
<tspan x="33" dy="17">Tunnel  Added at (753,240)</tspan>
<tspan x="33" dy="17">Tunnel  Added at (753,240)</tspan>
<tspan x="33" dy="17">Tunnel  Added at (753,240)</tspan>
<tspan x="33" dy="17">Tunnel  Added at (753,251)</tspan>
<tspan x="33" dy="17">Tunnel  Added at (753,251)</tspan>
<tspan x="33" dy="17">Type Definition Action Added at (1188,274)</tspan>
<tspan x="33" dy="17">Type Definition Action Added at (239,54)</tspan>
<tspan x="33" dy="17">Type Definition Action Added at (250,123)</tspan>
<tspan x="33" dy="17">Type Definition Action Added at (781,277)</tspan>
<tspan x="33" dy="17">Type Definition Action Added at (820,160)</tspan>
<tspan x="16.500" dy="17">data type name</tspan>
<tspan x="33" dy="17">Name Label  Changed from "error in (no error)" to "error in".</tspan>
<tspan x="16.500" dy="17">wiring changes</tspan>
<tspan x="0" dy="34">Attribute Changes</tspan>
<tspan x="16.500" dy="17">Automatic Error Handling</tspan></text>
</g>
</svg>
